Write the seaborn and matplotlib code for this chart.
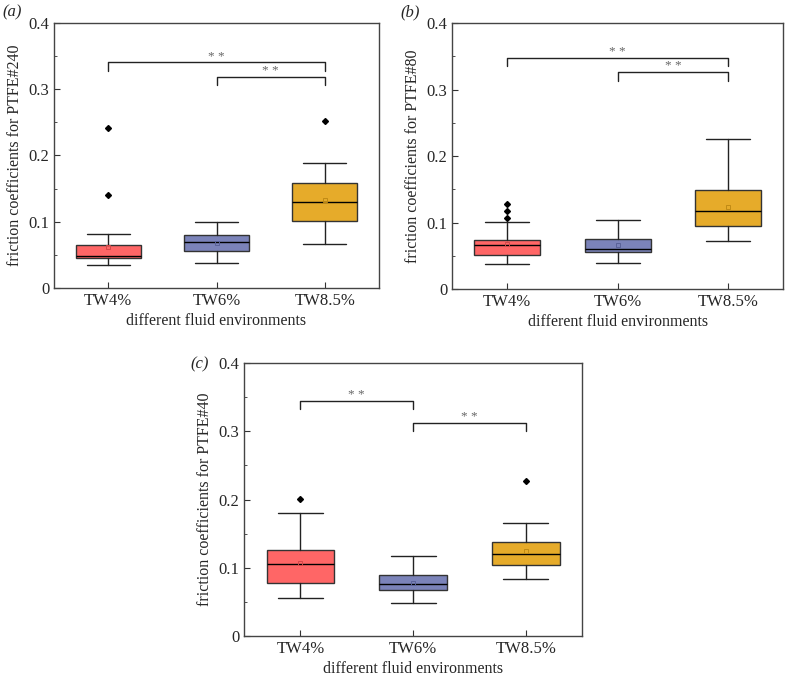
import numpy as np
import matplotlib
matplotlib.use("Agg")
import matplotlib.pyplot as plt
import seaborn as sns
from matplotlib.ticker import MultipleLocator, FuncFormatter

# whisker low, Q1, median, Q3, whisker high, mean, outliers
groups = ["TW4%", "TW6%", "TW8.5%"]
colors = ["#FF6666", "#7B83B9", "#E6AB2A"]
mean_colors = ["#D24A4A", "#5A6298", "#C08A15"]

ptfe240_low = [0.034, 0.0376, 0.067]
ptfe240_q1 = [0.0446, 0.0556, 0.1018]
ptfe240_med = [0.0486, 0.069, 0.129]
ptfe240_q3 = [0.0647, 0.080, 0.159]
ptfe240_high = [0.0812, 0.099, 0.189]
ptfe240_mean = [0.0617, 0.068, 0.133]
ptfe240_out = [[0.241, 0.140], [], [0.2516]]

ptfe80_low = [0.0375, 0.040, 0.073]
ptfe80_q1 = [0.052, 0.056, 0.095]
ptfe80_med = [0.066, 0.061, 0.118]
ptfe80_q3 = [0.0745, 0.075, 0.149]
ptfe80_high = [0.101, 0.1045, 0.226]
ptfe80_mean = [0.068, 0.0665, 0.124]
ptfe80_out = [[0.1275, 0.1175, 0.1075], [], []]

ptfe40_low = [0.056, 0.049, 0.083]
ptfe40_q1 = [0.078, 0.067, 0.104]
ptfe40_med = [0.1054, 0.0755, 0.1196]
ptfe40_q3 = [0.126, 0.0897, 0.138]
ptfe40_high = [0.181, 0.1176, 0.1657]
ptfe40_mean = [0.107, 0.078, 0.125]
ptfe40_out = [[0.201], [], [0.2265]]

# significance brackets: (from group, to group, bar height, leg end)
brackets_a = [(0, 2, 0.341, 0.327), (1, 2, 0.319, 0.306)]
brackets_b = [(0, 2, 0.3475, 0.335), (1, 2, 0.327, 0.3135)]
brackets_c = [(0, 1, 0.344, 0.332), (1, 2, 0.3127, 0.300)]

sns.set_style("white")
plt.rcParams["font.family"] = ["Liberation Serif", "DejaVu Serif"]


def make_stats(low, q1, med, q3, high, mean, out):
    stats = []
    for i in range(len(groups)):
        stats.append(dict(whislo=low[i], q1=q1[i], med=med[i], q3=q3[i],
                          whishi=high[i], mean=mean[i], fliers=out[i], label=groups[i]))
    return stats


def draw_panel(ax, stats, brackets, ylabel):
    pos = np.arange(1, len(groups) + 1)
    bp = ax.bxp(stats, positions=pos, widths=0.6, patch_artist=True, showmeans=True,
                boxprops=dict(edgecolor="#333333", linewidth=1.0),
                medianprops=dict(color="black", linewidth=1.0),
                whiskerprops=dict(color="#222222", linewidth=1.0),
                capprops=dict(color="#222222", linewidth=1.0),
                capwidths=0.4,
                flierprops=dict(marker="D", markersize=3, markerfacecolor="black",
                                markeredgecolor="black"))
    for patch, c in zip(bp["boxes"], colors):
        patch.set_facecolor(c)
    for m, c in zip(bp["means"], mean_colors):
        m.set_marker("s")
        m.set_markersize(3.5)
        m.set_markerfacecolor("none")
        m.set_markeredgecolor(c)
        m.set_markeredgewidth(0.7)

    for g1, g2, top, leg in brackets:
        x1, x2 = pos[g1], pos[g2]
        ax.plot([x1, x1, x2, x2], [leg, top, top, leg], color="#222222", lw=1.0)
        ax.text((x1 + x2) / 2, top + 0.0085, "* *", ha="center", va="center",
                fontsize=9.5, color="#666666")

    ax.set_xlim(0.5, 3.5)
    ax.set_ylim(0, 0.4)
    ax.set_xticks(pos)
    ax.set_xticklabels(groups)
    ax.yaxis.set_major_locator(MultipleLocator(0.1))
    ax.yaxis.set_minor_locator(MultipleLocator(0.05))
    ax.yaxis.set_major_formatter(FuncFormatter(lambda v, p: "0" if abs(v) < 1e-9 else f"{v:.1f}"))
    ax.tick_params(axis="both", which="both", direction="in", labelsize=12,
                   left=True, bottom=True, color="#333333")
    ax.tick_params(axis="both", which="major", length=4)
    ax.tick_params(axis="y", which="minor", length=2.5)
    ax.set_xlabel("different fluid environments", fontsize=11.5, labelpad=3)
    ax.set_ylabel(ylabel, fontsize=11.5)
    for s in ax.spines.values():
        s.set_color("#444444")
        s.set_linewidth(1.0)
    return ax


fig = plt.figure(figsize=(7.85, 6.79), dpi=100)
ax_a = fig.add_axes([0.0688, 0.576, 0.414, 0.390])
ax_b = fig.add_axes([0.576, 0.574, 0.4217, 0.392])
ax_c = fig.add_axes([0.311, 0.0633, 0.4306, 0.402])

draw_panel(ax_a, make_stats(ptfe240_low, ptfe240_q1, ptfe240_med, ptfe240_q3,
                            ptfe240_high, ptfe240_mean, ptfe240_out),
           brackets_a, "friction coefficients for PTFE#240")
draw_panel(ax_b, make_stats(ptfe80_low, ptfe80_q1, ptfe80_med, ptfe80_q3,
                            ptfe80_high, ptfe80_mean, ptfe80_out),
           brackets_b, "friction coefficients for PTFE#80")
draw_panel(ax_c, make_stats(ptfe40_low, ptfe40_q1, ptfe40_med, ptfe40_q3,
                            ptfe40_high, ptfe40_mean, ptfe40_out),
           brackets_c, "friction coefficients for PTFE#40")

fig.text(0.003, 0.982, "(a)", fontsize=12, style="italic", va="center")
fig.text(0.510, 0.982, "(b)", fontsize=12, style="italic", va="center")
fig.text(0.243, 0.464, "(c)", fontsize=12, style="italic", va="center")

fig.savefig("out.png", dpi=100)
